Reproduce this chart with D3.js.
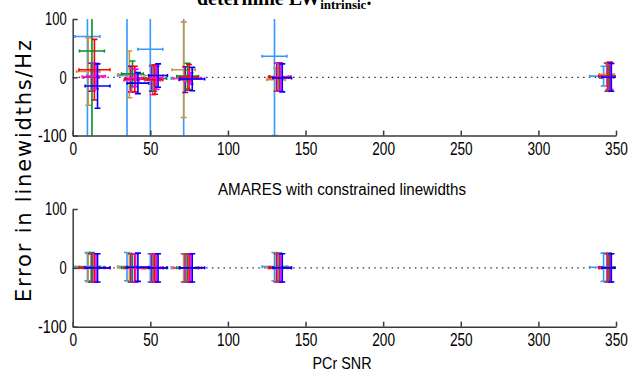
<!DOCTYPE html>
<html>
<head>
<meta charset="utf-8">
<script src="https://cdn.jsdelivr.net/npm/d3@7"></script>
<style>
  body { margin: 0; background: #fff; }
  svg { display: block; }
  .tick text { font-family: "Liberation Sans", Arial, sans-serif; font-size: 18px; fill: #000; }
  .axis path, .axis line { stroke: #3a3a3a; stroke-width: 1.5; }
</style>
</head>
<body>
<svg id="chart" width="628" height="371"></svg>
<script>
// series colours (one per fitted peak / condition)
const seriesColors = ['#3399ff', '#c8963c', '#7a0099', '#ff3399', '#00922e', '#ff0000', '#ff00ff', '#0000ff'];

// PCr SNR per series (6 SNR levels) and its SD
const snr = [
  [9.5, 35, 50, 71.5, 130, 342],
  [10, 36.5, 52, 71.5, 131, 344],
  [12, 37.5, 51, 72.5, 131.5, 344.5],
  [13, 38, 51.5, 73, 132, 345],
  [12.4, 38.5, 52.5, 74, 133, 345.5],
  [14, 40, 53, 75, 133.5, 346],
  [15, 40.5, 54, 76, 134, 346.5],
  [16, 42, 55, 77, 135, 347]
];
const snrSd = [
  [8, 6, 8, 8, 8, 9],
  [7.5, 7.5, 6, 7.5, 6, 5],
  [5, 4, 4, 4, 4, 4],
  [7, 5, 5, 8, 6, 6],
  [8, 7, 8, 7, 6, 6],
  [10, 6, 5, 6, 7, 7],
  [6, 4, 4, 7, 5, 6],
  [8, 7, 6, 8, 6, 6]
];

// top panel: linewidth error (mean, SD)
const topErr = [
  [70, 3, 48, -2, 36, 2],
  [10, 5, 3, 13, -4, 5],
  [0, -3, -2, -4, 0, 0],
  [1, -5, -5, -2, 0, 1],
  [45, 6, -2, 2, 1, 0],
  [13, -3, -4, 0, 1, 2],
  [2, -1, -1, -2, 0, 1],
  [-15, -10, 3, -3, -1, 0]
];
const topSd = [
  [300, 300, 300, 300, 136, 17],
  [58, 40, 18, 82, 20, 20],
  [24, 22, 22, 22, 24, 24],
  [24, 20, 25, 5, 24, 22],
  [300, 22, 22, 22, 24, 24],
  [52, 22, 25, 22, 24, 24],
  [22, 15, 20, 10, 24, 22],
  [38, 18, 20, 20, 24, 24]
];

// bottom panel: AMARES with constrained linewidths
const botErr = [
  [2, 2, 0, 0, 2, 1],
  [0, 1, 0, 0, 1, 0],
  [0, 0, 0, 0, 0, 0],
  [0, 0, 0, 0, 0, 0],
  [1, 0, 0, 0, 1, 1],
  [0, 0, 0, 0, 0, 0],
  [0, 0, 0, 0, 0, 0],
  [0, 1, 0, 0, 0, 0]
];
const botSd = [
  [24, 24, 24, 24, 24, 24],
  [24, 24, 24, 24, 24, 24],
  [24, 24, 24, 24, 24, 24],
  [24, 24, 24, 24, 24, 24],
  [25, 24, 24, 24, 24, 24],
  [24, 24, 24, 24, 24, 24],
  [24, 24, 24, 24, 24, 24],
  [24, 24, 24, 24, 24, 24]
];

const xTicks = [0, 50, 100, 150, 200, 250, 300, 350];
const yTicks = [-100, 0, 100];

const svg = d3.select('#chart');

const x = d3.scaleLinear().domain([0, 350]).range([72.7, 616]);

const panels = [
  { id: 'top', y0: 19, y1: 135.6, err: topErr, sd: topSd },
  { id: 'bot', y0: 209, y1: 326.7, err: botErr, sd: botSd }
];

const capW = 3;   // half width of y-error caps
const capH = 1.5; // half height of x-error caps

// squeeze the text to the narrow look of the original
function narrowText(sel, perChar) {
  sel.attr('textLength', function () { return this.textContent.length * perChar; })
    .attr('lengthAdjust', 'spacingAndGlyphs');
}

panels.forEach((p) => {
  const y = d3.scaleLinear().domain([-100, 100]).range([p.y1, p.y0]);

  svg.append('clipPath').attr('id', 'clip-' + p.id)
    .append('rect')
    .attr('x', x(0)).attr('y', p.y0)
    .attr('width', x(350) - x(0)).attr('height', p.y1 - p.y0);

  const g = svg.append('g').attr('clip-path', `url(#clip-${p.id})`);

  // zero line
  g.append('line')
    .attr('x1', x(0)).attr('x2', x(350))
    .attr('y1', y(0)).attr('y2', y(0))
    .attr('stroke', '#333')
    .attr('stroke-width', 1.3)
    .attr('stroke-dasharray', '1.5,4.3');

  seriesColors.forEach((col, s) => {
    const pts = snr[s].map((v, i) => ({ x: v, xe: snrSd[s][i], y: p.err[s][i], ye: p.sd[s][i] }));
    const sg = g.append('g').attr('stroke', col).attr('stroke-width', 1.6).attr('fill', 'none');

    pts.forEach((d) => {
      const cx = x(d.x), cy = y(d.y);
      const yt = y(d.y + d.ye), yb = y(d.y - d.ye);
      const xl = x(d.x - d.xe), xr = x(d.x + d.xe);
      // vertical error bar with caps
      sg.append('line').attr('x1', cx).attr('x2', cx).attr('y1', yt).attr('y2', yb);
      sg.append('line').attr('x1', cx - capW).attr('x2', cx + capW).attr('y1', yt).attr('y2', yt);
      sg.append('line').attr('x1', cx - capW).attr('x2', cx + capW).attr('y1', yb).attr('y2', yb);
      // horizontal (SNR) error bar with caps
      sg.append('line').attr('x1', xl).attr('x2', xr).attr('y1', cy).attr('y2', cy);
      sg.append('line').attr('x1', xl).attr('x2', xl).attr('y1', cy - capH).attr('y2', cy + capH);
      sg.append('line').attr('x1', xr).attr('x2', xr).attr('y1', cy - capH).attr('y2', cy + capH);
    });
  });

  // axes (box off, ticks inward)
  svg.append('g')
    .attr('class', 'axis')
    .attr('transform', `translate(${x(0)},0)`)
    .call(d3.axisLeft(y).tickValues(yTicks).tickFormat((d) => String(d))
      .tickSizeInner(-5).tickSizeOuter(0).tickPadding(6))
    .selectAll('text').call(narrowText, 7.2);

  svg.append('g')
    .attr('class', 'axis')
    .attr('transform', `translate(0,${p.y1})`)
    .call(d3.axisBottom(x).tickValues(xTicks).tickFormat((d) => String(d))
      .tickSizeInner(-5).tickSizeOuter(0).tickPadding(7))
    .selectAll('text').call(narrowText, 7.6);
});

svg.append('text')
  .attr('x', 342).attr('y', 195)
  .attr('text-anchor', 'middle')
  .style('font-family', '"Liberation Sans", Arial, sans-serif')
  .style('font-size', '16px')
  .attr('textLength', 248).attr('lengthAdjust', 'spacingAndGlyphs')
  .text('AMARES with constrained linewidths');

svg.append('text')
  .attr('x', 342).attr('y', 369)
  .attr('text-anchor', 'middle')
  .style('font-family', '"Liberation Sans", Arial, sans-serif')
  .style('font-size', '16px')
  .attr('textLength', 59).attr('lengthAdjust', 'spacingAndGlyphs')
  .text('PCr SNR');

svg.append('text')
  .attr('transform', 'translate(31,171) rotate(-90)')
  .attr('text-anchor', 'middle')
  .style('font-family', '"DejaVu Sans", Verdana, sans-serif')
  .style('font-size', '21px')
  .attr('textLength', 262).attr('lengthAdjust', 'spacing')
  .text('Error in linewidths/Hz');

// caption fragment cut off at the top
const cap = svg.append('text')
  .attr('x', 197).attr('y', 5)
  .style('font-family', '"Liberation Serif", "Times New Roman", serif')
  .style('font-weight', 'bold')
  .style('font-size', '20px');
cap.append('tspan').text('determine LW');
cap.append('tspan').attr('dy', 4).style('font-size', '13px').text('intrinsic');
cap.append('tspan').attr('dy', -4).text('.');
</script>
</body>
</html>
